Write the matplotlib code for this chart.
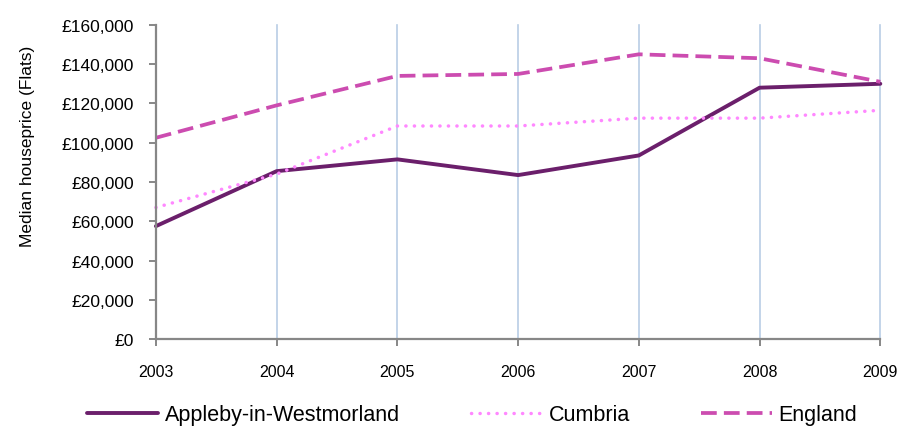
import matplotlib
matplotlib.use("Agg")
import matplotlib.pyplot as plt
from matplotlib.ticker import FuncFormatter

plt.rcParams['font.family'] = ['Liberation Sans', 'DejaVu Sans']

years = [2003, 2004, 2005, 2006, 2007, 2008, 2009]
appleby = [57500, 85500, 91500, 83500, 93500, 128000, 130000]
cumbria = [67000, 84000, 108500, 108500, 112500, 112500, 116500]
england = [102500, 119000, 134000, 135000, 145000, 143000, 131000]
yticks = list(range(0, 160001, 20000))

fig = plt.figure(figsize=(9.17, 4.31), dpi=100)
ax = fig.add_axes([0.170, 0.211, 0.790, 0.729])

for x in years[1:]:
    ax.axvline(x, color='#B9CDE5', lw=1.2, zorder=0)

ax.plot(years, appleby, color='#6B1F6B', lw=2.8, label='Appleby-in-Westmorland', solid_capstyle='round')
ax.plot(years, cumbria, color='#FF88FF', lw=2.5, linestyle=(0, (0.05, 2.4)), dash_capstyle='round', label='Cumbria')
ax.plot(years, england, color='#CC4CB0', lw=2.7, linestyle=(0, (4.2, 1.9)), label='England')

ax.set_xlim(2003, 2009)
ax.set_ylim(0, 160000)
ax.set_xticks(years)
ax.set_yticks(yticks)
ax.yaxis.set_major_formatter(FuncFormatter(lambda v, p: '£{:,.0f}'.format(v)))
for s in ['top', 'right']:
    ax.spines[s].set_visible(False)
for s in ['left', 'bottom']:
    ax.spines[s].set_color('#878787')
    ax.spines[s].set_linewidth(1.6)
ax.tick_params(axis='both', colors='#878787', width=1.4, length=5, labelcolor='black')
ax.tick_params(axis='x', pad=13, labelsize=11.5)
ax.tick_params(axis='y', pad=11, labelsize=12.5)
ax.set_ylabel('Median houseprice (Flats)', fontsize=12.5)
ax.yaxis.set_label_coords(35 / 917, 1 - 146.5 / 431, transform=fig.transFigure)
for l in ax.lines:
    l.set_clip_on(False)

leg = fig.legend(loc='center', bbox_to_anchor=(0.515, 0.035), ncol=3, frameon=False,
                 fontsize=15.5, handlelength=3.3, columnspacing=3.3, handletextpad=0.3)

fig.savefig('out.png', dpi=100)
